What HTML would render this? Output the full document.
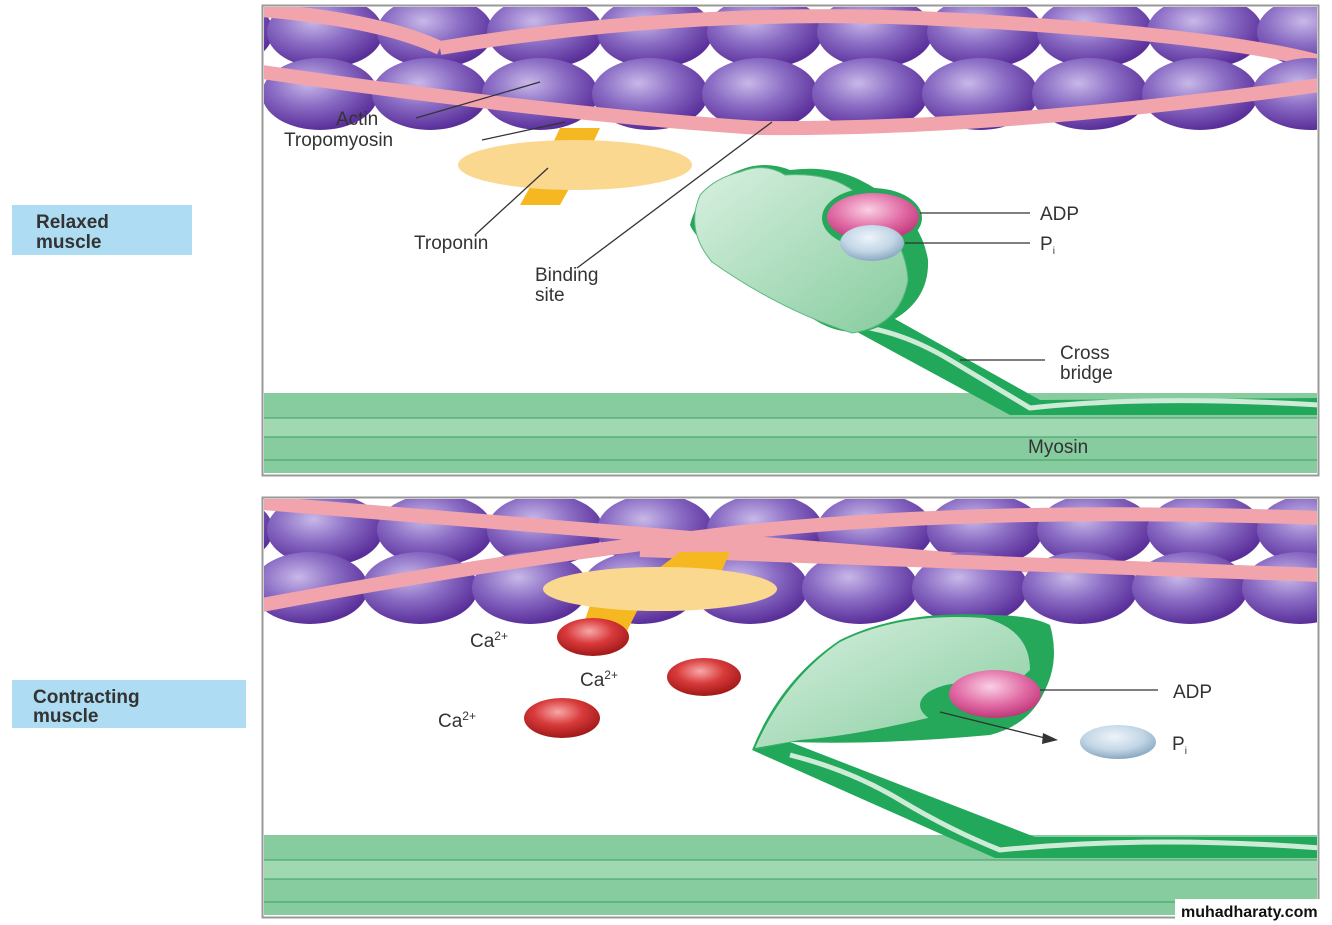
<!DOCTYPE html>
<html><head><meta charset="utf-8"><style>
html,body{margin:0;padding:0;background:#fff;}
svg{display:block;font-family:"Liberation Sans",sans-serif;}
</style></head><body>
<svg width="1332" height="925" viewBox="0 0 1332 925" xmlns="http://www.w3.org/2000/svg">
<defs>
<radialGradient id="sp" cx="0.4" cy="0.35" r="0.65">
<stop offset="0" stop-color="#c8b8e8"/><stop offset="0.5" stop-color="#8a6cc4"/><stop offset="1" stop-color="#5a2f9a"/></radialGradient>
<radialGradient id="ca" cx="0.45" cy="0.35" r="0.65">
<stop offset="0" stop-color="#f8a8a8"/><stop offset="0.5" stop-color="#d83a3a"/><stop offset="1" stop-color="#a01818"/></radialGradient>
<radialGradient id="adp" cx="0.45" cy="0.35" r="0.65">
<stop offset="0" stop-color="#fad0e4"/><stop offset="0.6" stop-color="#e06aa4"/><stop offset="1" stop-color="#c0387a"/></radialGradient>
<radialGradient id="pi" cx="0.45" cy="0.35" r="0.65">
<stop offset="0" stop-color="#eef4fa"/><stop offset="0.6" stop-color="#c2d6e6"/><stop offset="1" stop-color="#8aa8c0"/></radialGradient>
<linearGradient id="head" x1="0" y1="0" x2="1" y2="1">
<stop offset="0" stop-color="#d8f0e0"/><stop offset="1" stop-color="#86cc9e"/></linearGradient>
<clipPath id="c1"><rect x="264" y="7" width="1053" height="466"/></clipPath>
<clipPath id="c2"><rect x="264" y="499" width="1053" height="416"/></clipPath>
<g id="row">
<ellipse cx="0" cy="0" rx="58" ry="36" fill="url(#sp)"/>
<ellipse cx="110" cy="0" rx="58" ry="36" fill="url(#sp)"/>
<ellipse cx="220" cy="0" rx="58" ry="36" fill="url(#sp)"/>
<ellipse cx="330" cy="0" rx="58" ry="36" fill="url(#sp)"/>
<ellipse cx="440" cy="0" rx="58" ry="36" fill="url(#sp)"/>
<ellipse cx="550" cy="0" rx="58" ry="36" fill="url(#sp)"/>
<ellipse cx="660" cy="0" rx="58" ry="36" fill="url(#sp)"/>
<ellipse cx="770" cy="0" rx="58" ry="36" fill="url(#sp)"/>
<ellipse cx="880" cy="0" rx="58" ry="36" fill="url(#sp)"/>
<ellipse cx="990" cy="0" rx="58" ry="36" fill="url(#sp)"/>
<ellipse cx="1100" cy="0" rx="58" ry="36" fill="url(#sp)"/>
</g>
</defs>

<!-- TOP PANEL -->
<rect x="262.5" y="5.5" width="1056" height="470" fill="#fff" stroke="#999" stroke-width="2"/>
<g clip-path="url(#c1)">
<use href="#row" x="215" y="32"/>
<path d="M440 48 Q700 5 960 20 T1320 62" stroke="#f2a4ac" stroke-width="14" fill="none"/>
<use href="#row" x="320" y="94"/>
<path d="M262 72 Q560 115 760 128 Q1000 130 1320 85" stroke="#f2a4ac" stroke-width="14" fill="none"/>
<path d="M262 10 Q380 20 440 48" stroke="#f2a4ac" stroke-width="14" fill="none"/>
<polygon points="560,128 600,128 585,160 560,205 520,205 545,160" fill="#f6b820"/>
<ellipse cx="575" cy="165" rx="117" ry="25" fill="#fbd890"/>
<rect x="262" y="393" width="1058" height="82" fill="#86cc9e"/>
<rect x="262" y="418" width="1058" height="19" fill="#a0d8b2"/>
<line x1="262" y1="418" x2="1320" y2="418" stroke="#3aa062"/>
<line x1="262" y1="437" x2="1320" y2="437" stroke="#3aa062"/>
<line x1="262" y1="460" x2="1320" y2="460" stroke="#3aa062"/>
<path d="M835 320 L870 305 L1040 400 L1320 398 L1320 415 L1010 415 Z" fill="#22a85a"/>
<path d="M850 325 Q900 330 950 360 T1030 408 Q1150 395 1320 405" stroke="#cdebd6" stroke-width="5" fill="none"/>
<path d="M740 170 Q765 160 790 170 Q830 165 860 180 Q920 210 928 260 Q930 310 870 330 Q830 340 790 300 Q700 250 690 225 Q700 185 740 170Z" fill="#25a85a"/>
<path d="M740 172 Q765 162 785 175 Q830 172 855 192 Q905 232 908 280 Q900 326 852 333 Q780 310 712 262 Q685 230 700 195 Q715 178 740 172Z" fill="url(#head)" stroke="#5cb880"/>
<ellipse cx="872" cy="218" rx="50" ry="30" fill="#25a85a"/>
<ellipse cx="873" cy="217" rx="46" ry="24" fill="url(#adp)"/>
<ellipse cx="872" cy="243" rx="32" ry="18" fill="url(#pi)"/>
</g>
<g font-size="19" fill="#333">
<text x="336" y="125">Actin</text>
<text x="284" y="146">Tropomyosin</text>
<text x="414" y="249">Troponin</text>
<text x="535" y="281">Binding</text>
<text x="535" y="301">site</text>
<text x="1040" y="220">ADP</text>
<text x="1040" y="250">P<tspan font-size="10" dy="4">i</tspan></text>
<text x="1060" y="359">Cross</text>
<text x="1060" y="379">bridge</text>
<text x="1028" y="453">Myosin</text>
</g>
<g stroke="#333" stroke-width="1.3" fill="none">
<line x1="416" y1="118" x2="540" y2="82"/>
<line x1="482" y1="140" x2="565" y2="122"/>
<line x1="475" y1="235" x2="548" y2="168"/>
<line x1="577" y1="268" x2="772" y2="122"/>
<line x1="920" y1="213" x2="1030" y2="213"/>
<line x1="905" y1="243" x2="1030" y2="243"/>
<line x1="960" y1="360" x2="1045" y2="360"/>
</g>

<!-- BOTTOM PANEL -->
<rect x="262.5" y="497.5" width="1056" height="420" fill="#fff" stroke="#999" stroke-width="2"/>
<g clip-path="url(#c2)">
<use href="#row" x="215" y="530"/>
<path d="M262 503 Q600 530 960 560 T1320 575" stroke="#f2a4ac" stroke-width="14" fill="none"/>
<use href="#row" x="310" y="588"/>
<path d="M262 605 Q500 560 700 537 Q950 505 1320 518" stroke="#f2a4ac" stroke-width="14" fill="none"/>
<path d="M640 550 Q900 560 1320 575" stroke="#f2a4ac" stroke-width="14" fill="none"/>
<polygon points="680,552 730,552 720,575 650,575" fill="#f6b820"/>
<polygon points="590,605 640,605 625,635 580,635" fill="#f6b820"/>
<ellipse cx="660" cy="589" rx="117" ry="22" fill="#fbd890"/>
<ellipse cx="593" cy="637" rx="36" ry="19" fill="url(#ca)"/>
<ellipse cx="704" cy="677" rx="37" ry="19" fill="url(#ca)"/>
<ellipse cx="562" cy="718" rx="38" ry="20" fill="url(#ca)"/>
<rect x="262" y="835" width="1058" height="82" fill="#86cc9e"/>
<rect x="262" y="860" width="1058" height="19" fill="#a0d8b2"/>
<line x1="262" y1="860" x2="1320" y2="860" stroke="#3aa062"/>
<line x1="262" y1="879" x2="1320" y2="879" stroke="#3aa062"/>
<line x1="262" y1="902" x2="1320" y2="902" stroke="#3aa062"/>
<path d="M752 750 L790 742 L1035 837 L1320 837 L1320 858 L995 858 Z" fill="#22a85a"/>
<path d="M790 755 Q850 770 900 800 T1000 850 Q1150 835 1320 848" stroke="#cdebd6" stroke-width="5" fill="none"/>
<path d="M752 750 Q780 680 840 640 Q900 610 990 615 Q1030 615 1050 625 Q1060 660 1045 690 Q1030 725 990 735 Q880 745 790 742Z" fill="#25a85a"/>
<path d="M755 748 Q785 680 840 642 Q900 612 985 618 Q1030 630 1030 670 Q1000 700 940 715 Q860 735 800 740Z" fill="url(#head)"/>
<ellipse cx="965" cy="705" rx="45" ry="22" fill="#25a85a"/>
<ellipse cx="995" cy="694" rx="46" ry="24" fill="url(#adp)"/>
<ellipse cx="1118" cy="742" rx="38" ry="17" fill="url(#pi)"/>
</g>
<g stroke="#333" stroke-width="1.3" fill="none">
<line x1="1040" y1="690" x2="1158" y2="690"/>
<path d="M940 712 L1045 738"/>
</g>
<polygon points="1058,740 1043,733 1042,744" fill="#333"/>
<g font-size="19" fill="#333">
<text x="470" y="647">Ca<tspan font-size="12" dy="-7">2+</tspan></text>
<text x="580" y="686">Ca<tspan font-size="12" dy="-7">2+</tspan></text>
<text x="438" y="727">Ca<tspan font-size="12" dy="-7">2+</tspan></text>
<text x="1173" y="698">ADP</text>
<text x="1172" y="750">P<tspan font-size="10" dy="4">i</tspan></text>
</g>

<rect x="12" y="205" width="180" height="50" fill="#aedcf2"/>
<text x="36" y="228" font-size="19" font-weight="bold" fill="#333">Relaxed</text>
<text x="36" y="248" font-size="19" font-weight="bold" fill="#333">muscle</text>
<rect x="12" y="680" width="234" height="48" fill="#aedcf2"/>
<text x="33" y="703" font-size="19" font-weight="bold" fill="#333">Contracting</text>
<text x="33" y="722" font-size="19" font-weight="bold" fill="#333">muscle</text>

<rect x="1175" y="899" width="155" height="24" fill="#fff"/>
<text x="1181" y="917" font-size="16" font-weight="bold" fill="#111">muhadharaty.com</text>
</svg>
</body></html>
